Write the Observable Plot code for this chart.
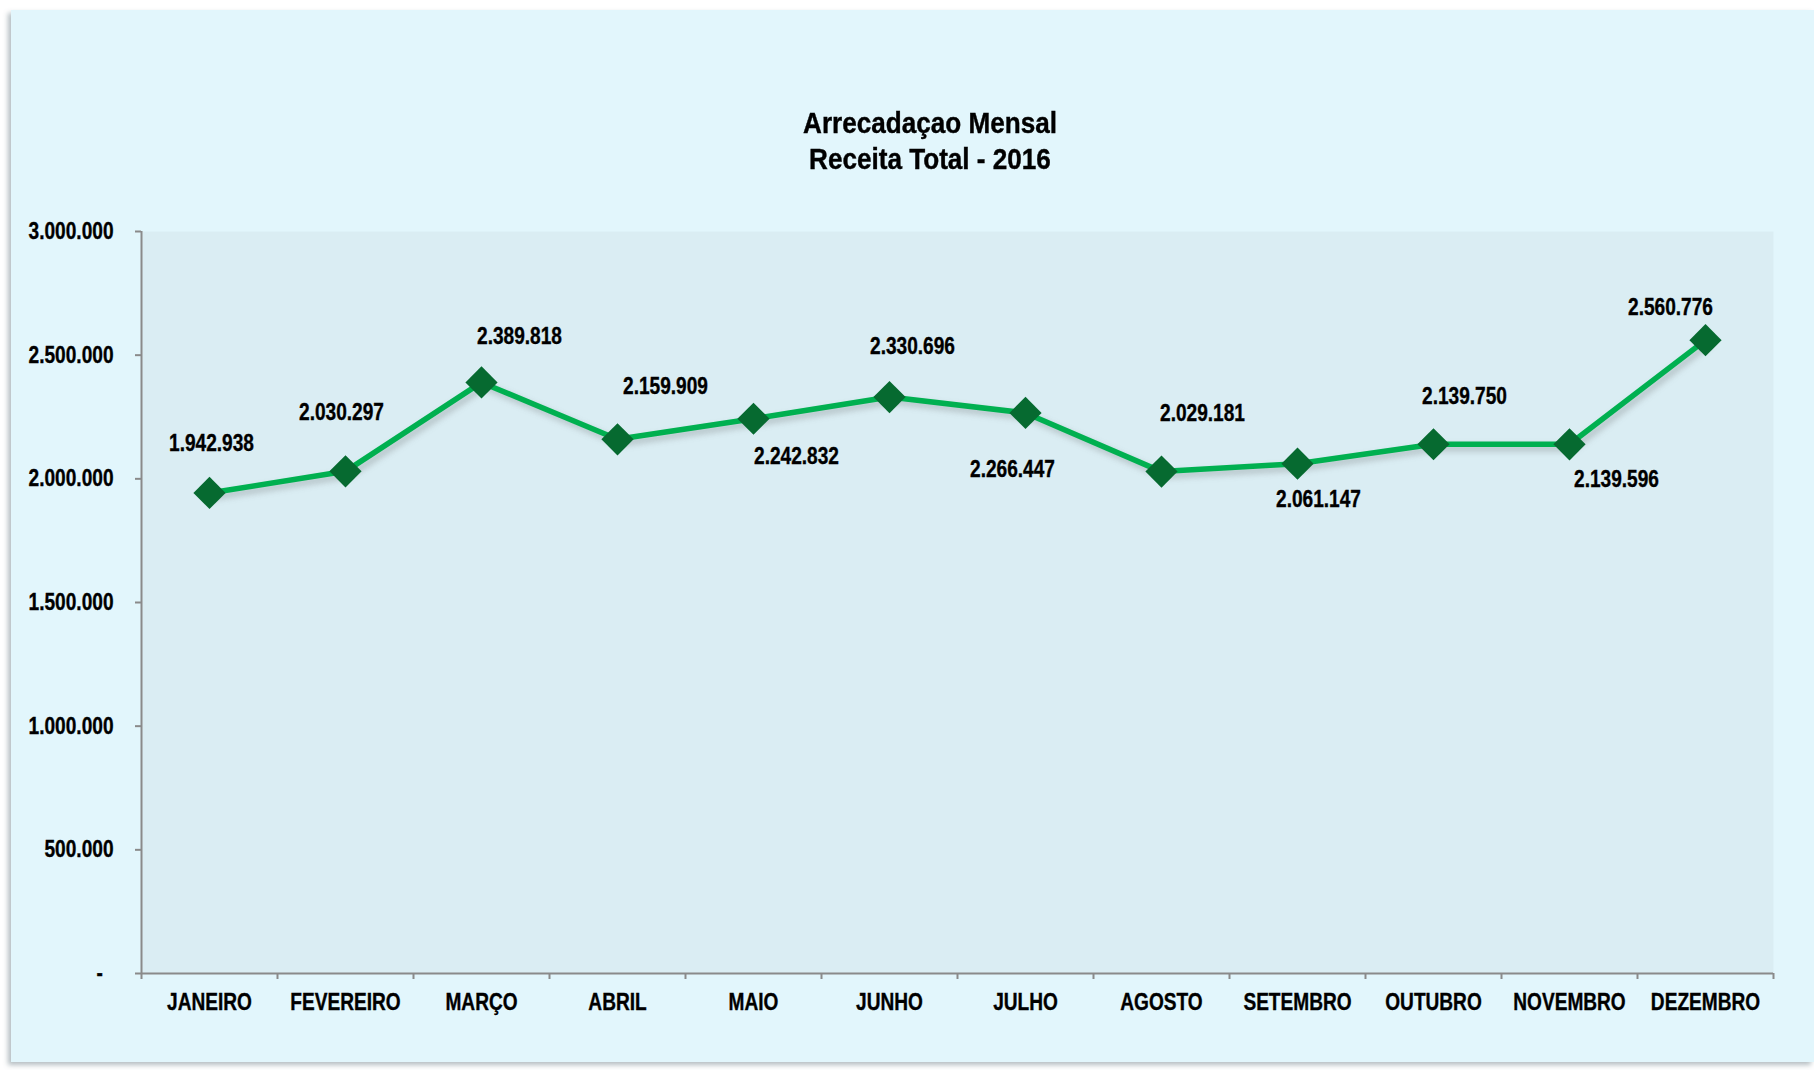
<!DOCTYPE html>
<html>
<head>
<meta charset="utf-8">
<script src="https://cdn.jsdelivr.net/npm/d3@7"></script>
<script src="https://cdn.jsdelivr.net/npm/@observablehq/plot@0.6"></script>
<style>
  html, body { margin: 0; padding: 0; background: #ffffff; width: 1814px; height: 1070px; overflow: hidden; }
  #panel {
    position: absolute; left: 11px; top: 10px; width: 1803px; height: 1052px;
    background: #e2f6fc;
    box-shadow: -3px 3px 5px rgba(90,110,120,0.45);
  }
  #title {
    position: absolute; left: 630px; width: 600px; top: 105px;
    text-align: center;
    font-family: "Liberation Sans Narrow", "Arial Narrow", "Liberation Sans", Arial, sans-serif;
    font-weight: bold; font-size: 29px; line-height: 36px; color: #000;
    -webkit-text-stroke: 0.4px #000;
    transform: scaleX(0.9); transform-origin: 50% 50%;
  }
  #chart { position: absolute; left: 0; top: 190px; }
  #chart svg text { font-family: "Liberation Sans Narrow", "Arial Narrow", "Liberation Sans", Arial, sans-serif; font-weight: bold; }
</style>
</head>
<body>
<div id="panel"></div>
<div id="title">Arrecadaçao Mensal<br>Receita Total - 2016</div>
<div id="chart"></div>
<script>
// ---- data ----
const months = ["JANEIRO", "FEVEREIRO", "MARÇO", "ABRIL", "MAIO", "JUNHO", "JULHO", "AGOSTO", "SETEMBRO", "OUTUBRO", "NOVEMBRO", "DEZEMBRO"];
const values = [1942938, 2030297, 2389818, 2159909, 2242832, 2330696, 2266447, 2029181, 2061147, 2139750, 2139596, 2560776];
const yTicks = [0, 500000, 1000000, 1500000, 2000000, 2500000, 3000000];

// ---- formatting ----
const locale = d3.formatLocale({decimal: ",", thousands: ".", grouping: [3], currency: ["R$", ""]});
const fmt = locale.format(",d");
const yFmt = d => d === 0 ? "-\u00a0\u00a0" : fmt(d);

// label placement (pixel offsets from each marker)
const labelOffsets = [[2,-49],[-4,-59],[38,-46],[48,-53],[43,38],[23,-50],[-13,57],[41,-58],[21,36],[31,-48],[47,35],[-35,-33]];

const data = months.map((m, i) => ({i, month: m, pos: i + 0.5, value: values[i]}));

const lineColor = "#00b050";
const markerColor = "#066a30";
const axisColor = "#8a8a8a";
const fs = 23;

const labelMarks = data.map((d, k) => Plot.text([d], {
  x: "pos", y: "value", text: r => fmt(r.value),
  dx: labelOffsets[k][0], dy: labelOffsets[k][1],
  fontSize: fs, fontWeight: "bold", fill: "#000"
}));

const chart = Plot.plot({
  width: 1814,
  height: 880,
  marginLeft: 141,
  marginRight: 41,
  marginTop: 41,
  marginBottom: 97,
  style: {background: "transparent", overflow: "visible"},
  x: {type: "linear", domain: [0, months.length], axis: null},
  y: {domain: [0, 3000000], axis: null},
  marks: [
    Plot.frame({fill: "#daedf3", stroke: "none"}),
    Plot.ruleX([0], {stroke: axisColor, strokeWidth: 2}),
    Plot.ruleY([0], {stroke: axisColor, strokeWidth: 2}),
    Plot.axisY({ticks: yTicks, tickFormat: yFmt, tickSize: 6, tickPadding: 22, stroke: axisColor, strokeWidth: 2, fontSize: fs, fill: "#000", label: null}),
    Plot.axisX({ticks: d3.range(0, months.length + 1), tickFormat: () => "", tickSize: 6, stroke: axisColor, strokeWidth: 2, label: null}),
    Plot.axisX({ticks: data.map(d => d.pos), tickFormat: p => months[Math.round(p - 0.5)], tickSize: 0, tickPadding: 20, fontSize: fs, fill: "#000", label: null}),
    Plot.line(data, {x: "pos", y: "value", stroke: lineColor, strokeWidth: 5.5}),
    Plot.dot(data, {x: "pos", y: "value", symbol: "diamond2", r: 14.5, fill: markerColor, stroke: "none"}),
    ...labelMarks
  ]
});
document.getElementById("chart").appendChild(chart);

// condense the bold sans glyphs to an Arial-Narrow-like width and weight
chart.querySelectorAll("text").forEach(t => {
  const len = t.getComputedTextLength();
  if (len > 0) {
    t.setAttribute("textLength", (len * 0.83).toFixed(2));
    t.setAttribute("lengthAdjust", "spacingAndGlyphs");
    t.style.stroke = "#000";
    t.style.strokeWidth = "0.35px";
  }
});
chart.querySelectorAll("[aria-label='line'] path").forEach(p => p.style.filter = "drop-shadow(3px 4px 3px rgba(80,80,80,0.3))");
</script>
</body>
</html>
